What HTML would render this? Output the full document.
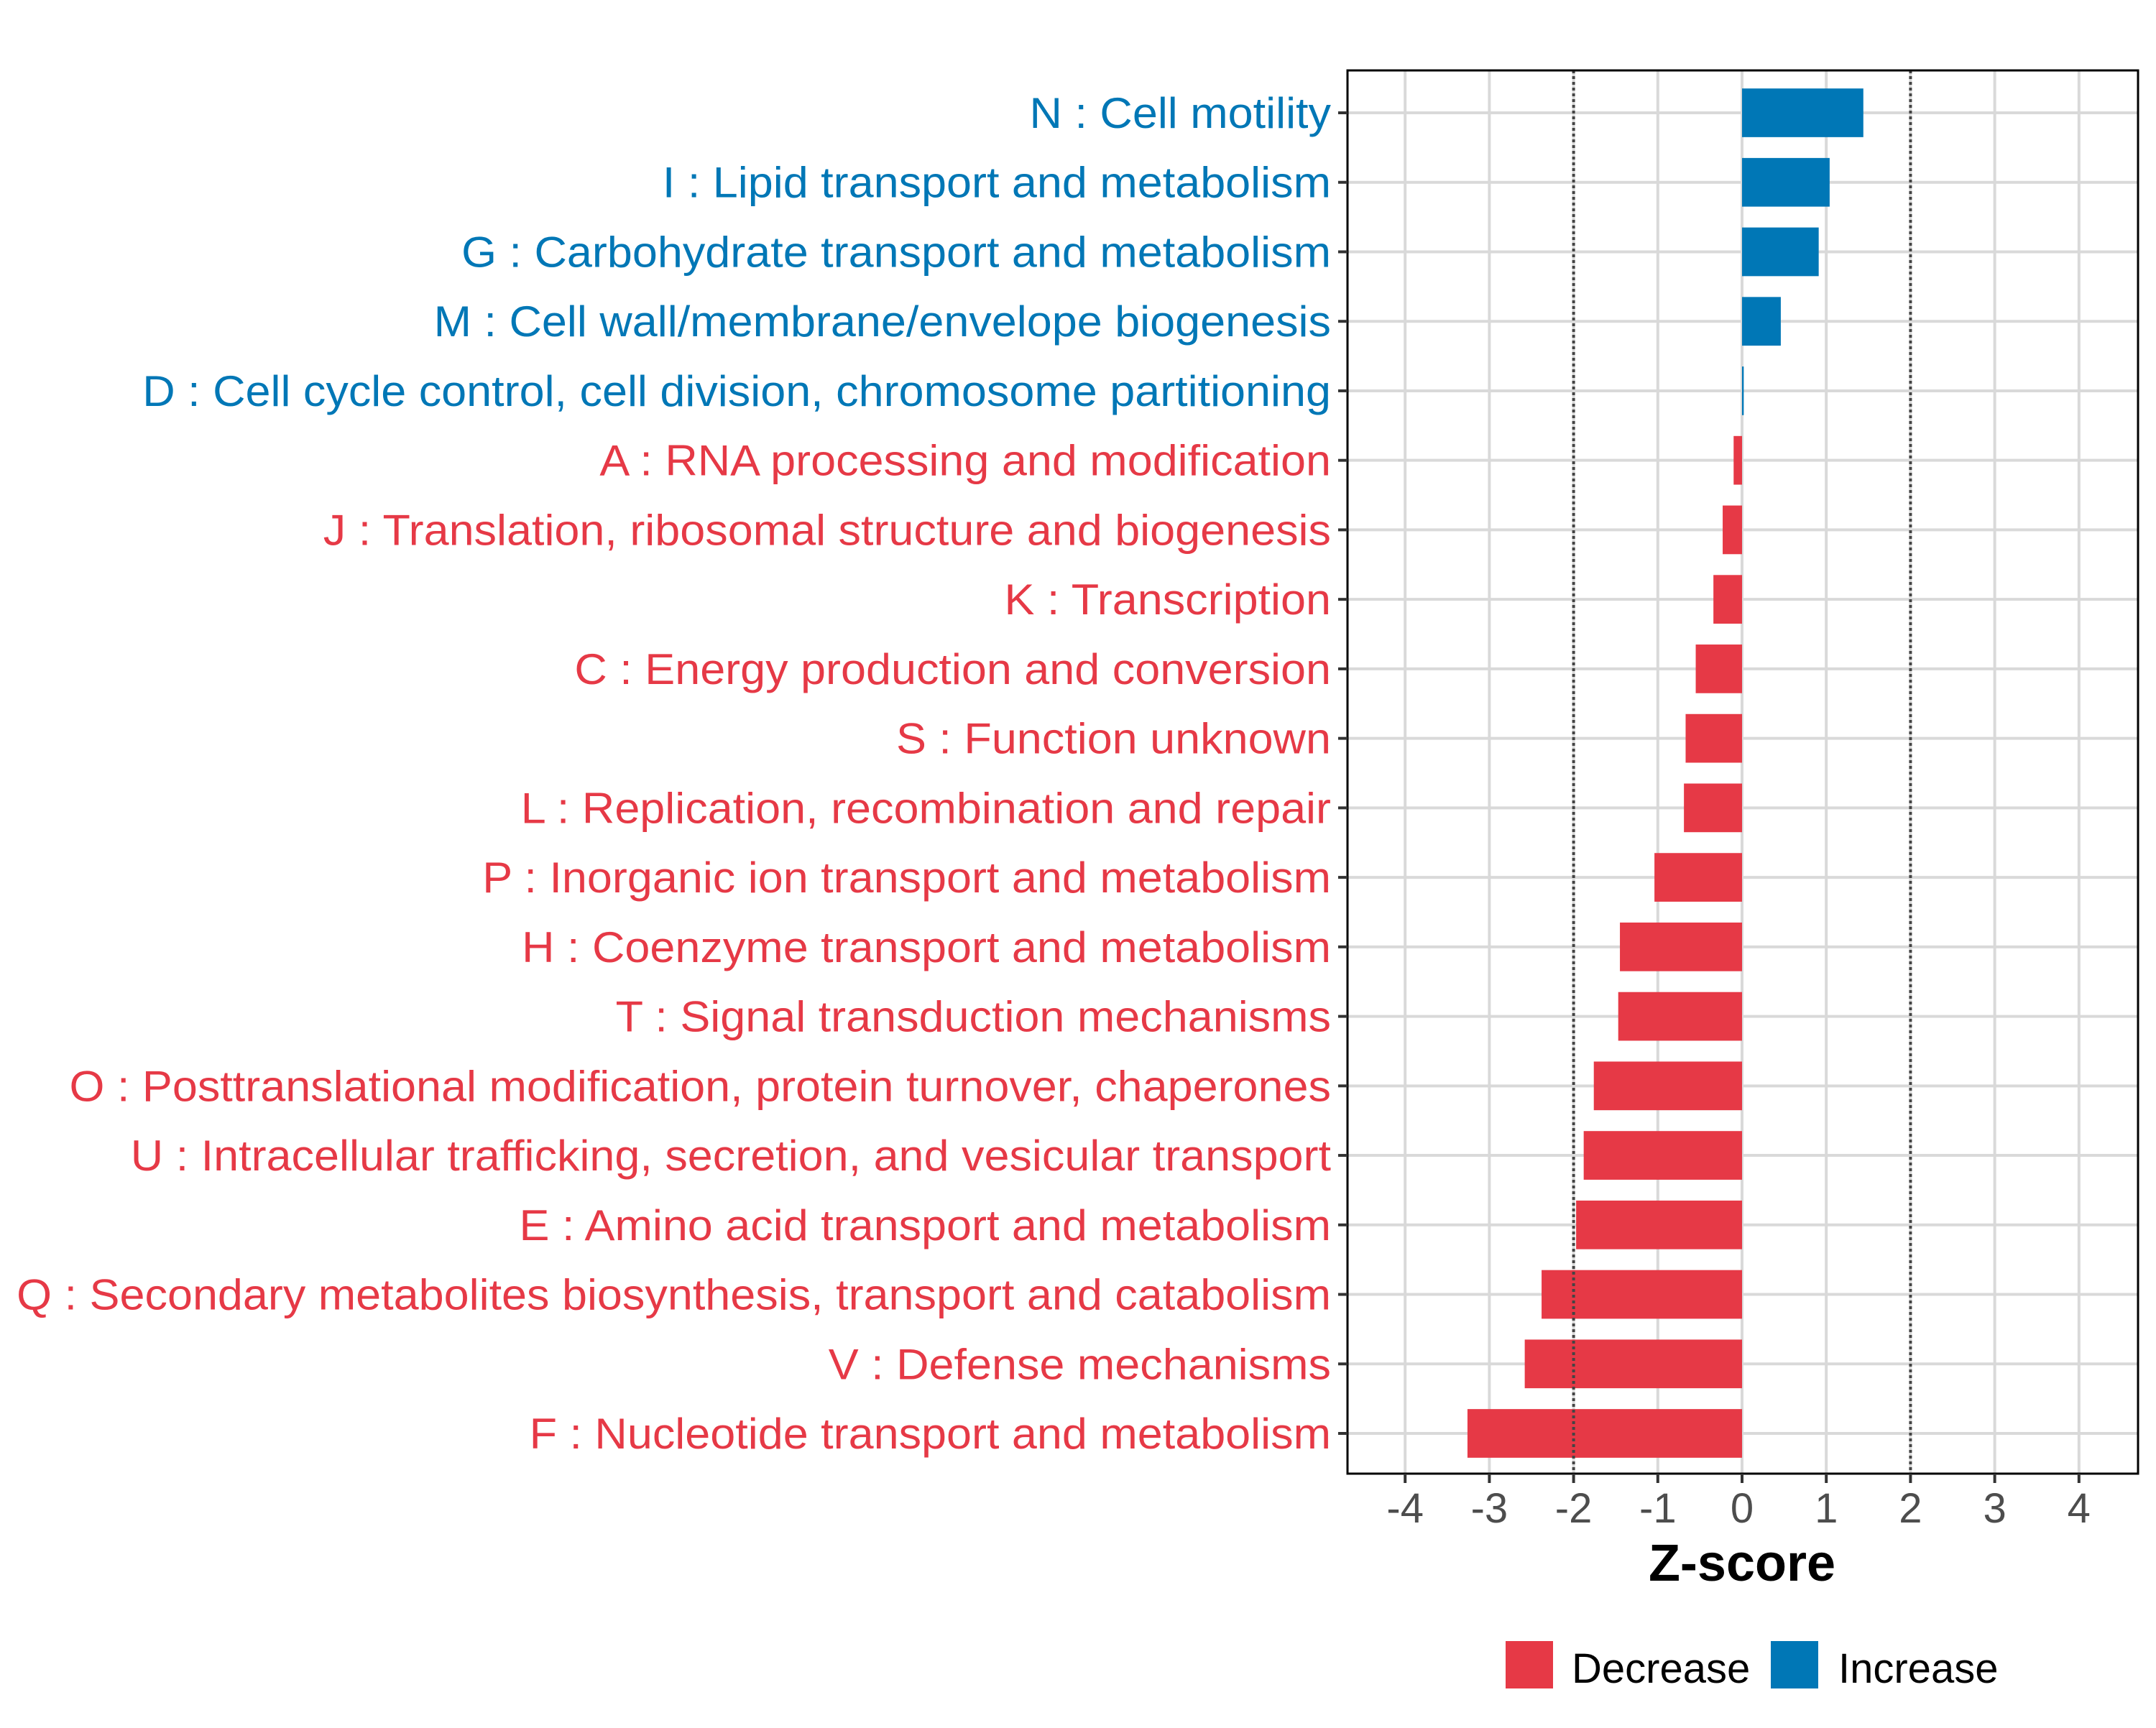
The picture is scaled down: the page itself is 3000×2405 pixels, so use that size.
<!DOCTYPE html>
<html><head><meta charset="utf-8"><style>
html,body{margin:0;padding:0;background:#fff;}
svg text{font-family:"Liberation Sans",Arial,sans-serif;}
</style></head><body>
<svg id="chart" width="3000" height="2400" xmlns="http://www.w3.org/2000/svg">
<rect width="3000" height="2400" fill="#fff"/>
<g id="grid"></g><g id="bars"></g><g id="frame"></g><g id="labels"></g><g id="xaxis"></g>
<text id="xtitle" x="2424" y="2200" font-size="72" font-weight="bold" text-anchor="middle" fill="#000">Z-score</text>
<g id="legend">
<rect x="2095" y="2284" width="66" height="66" fill="#E63946"/>
<text x="2187" y="2342" font-size="58" fill="#000">Decrease</text>
<rect x="2464" y="2284" width="66" height="66" fill="#0077B6"/>
<text x="2558" y="2342" font-size="58" fill="#000">Increase</text>
</g>
</svg>
<script>
const categories = ["N : Cell motility","I : Lipid transport and metabolism","G : Carbohydrate transport and metabolism","M : Cell wall/membrane/envelope biogenesis","D : Cell cycle control, cell division, chromosome partitioning","A : RNA processing and modification","J : Translation, ribosomal structure and biogenesis","K : Transcription","C : Energy production and conversion","S : Function unknown","L : Replication, recombination and repair","P : Inorganic ion transport and metabolism","H : Coenzyme transport and metabolism","T : Signal transduction mechanisms","O : Posttranslational modification, protein turnover, chaperones","U : Intracellular trafficking, secretion, and vesicular transport","E : Amino acid transport and metabolism","Q : Secondary metabolites biosynthesis, transport and catabolism","V : Defense mechanisms","F : Nucleotide transport and metabolism"];
const zscores = [1.44,1.04,0.91,0.46,0.02,-0.1,-0.23,-0.34,-0.55,-0.67,-0.69,-1.04,-1.45,-1.47,-1.76,-1.88,-1.97,-2.38,-2.58,-3.26];
const xTicks = [-4,-3,-2,-1,0,1,2,3,4];
const thresholds = [-2,2];

const NS="http://www.w3.org/2000/svg";
const PL=1875,PR=2975,PT=98,PB=2051;
const X0=2424,UNIT=117.2;
const Y0=157,STEP=(1995-157)/19;
const xs=v=>X0+v*UNIT;
const ys=i=>Y0+i*STEP;
function mk(tag,attrs,parent){const e=document.createElementNS(NS,tag);for(const k in attrs)e.setAttribute(k,attrs[k]);parent.appendChild(e);return e;}
const grid=document.getElementById('grid'),bars=document.getElementById('bars'),frame=document.getElementById('frame'),labels=document.getElementById('labels'),xaxis=document.getElementById('xaxis');
mk('rect',{x:PL,y:PT,width:PR-PL,height:PB-PT,fill:'#fff'},grid);
xTicks.forEach(t=>{
  const l=mk('line',{x1:xs(t),x2:xs(t),y1:PT,y2:PB,stroke:'#d9d9d9','stroke-width':4},grid);
  
  
});
categories.forEach((c,i)=>{
  const l=mk('line',{x1:PL,x2:PR,y1:ys(i),y2:ys(i),stroke:'#d9d9d9','stroke-width':4},grid);
  
  
});
const bh=0.7*STEP;
categories.forEach((c,i)=>{
  const v=zscores[i];
  const col=v>=0?'#0077B6':'#E63946';
  const x=Math.min(xs(0),xs(v)),w=Math.max(Math.abs(xs(v)-xs(0)),1.5);
  const r=mk('rect',{x:x,y:ys(i)-bh/2,width:w,height:bh,fill:col},bars);
  
  
  const t=mk('text',{x:1852,y:ys(i)+21,'font-size':60,'text-anchor':'end',fill:col,class:'cl'},labels);
  t.textContent=c;
  
  
  const tk=mk('line',{x1:PL-13,x2:PL,y1:ys(i),y2:ys(i),stroke:'#333','stroke-width':4},labels);
  
  
});
thresholds.forEach(t=>{
  const l=mk('line',{x1:xs(t),x2:xs(t),y1:PT,y2:PB,stroke:'#444','stroke-width':4,'stroke-dasharray':'4 4'},frame);
  
  
});
const fr=mk('rect',{x:PL,y:PT,width:PR-PL,height:PB-PT,fill:'none',stroke:'#000','stroke-width':3},frame);


xTicks.forEach(t=>{
  const l=mk('line',{x1:xs(t),x2:xs(t),y1:PB,y2:PB+13,stroke:'#333','stroke-width':4},xaxis);
  
  
  const tx=mk('text',{x:xs(t),y:2119,'font-size':58,'text-anchor':'middle',fill:'#4d4d4d'},xaxis);
  tx.textContent=String(t);
  
  
});
// stretch category labels horizontally to match reference widths
const q=labels.querySelectorAll('text.cl')[17];
const s=1829/q.getComputedTextLength();
labels.querySelectorAll('text.cl').forEach(t=>{
  const ax=parseFloat(t.getAttribute('x'));
  t.setAttribute('transform','translate('+ax+',0) scale('+s+',1) translate('+(-ax)+',0)');
});
</script>
</body></html>
